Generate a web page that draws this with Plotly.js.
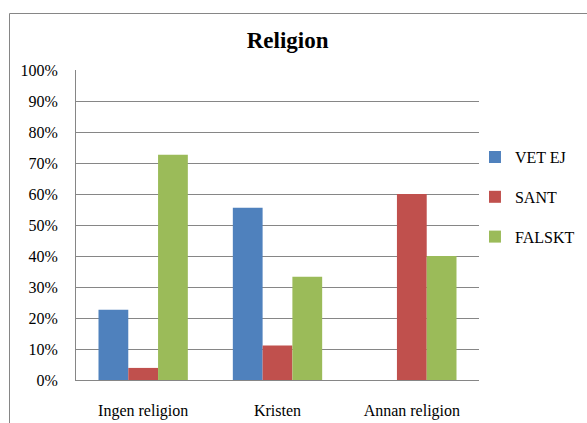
<!DOCTYPE html>
<html>
<head>
<meta charset="utf-8">
<script src="https://cdn.plot.ly/plotly-3.0.1.min.js"></script>
<style>
html,body{margin:0;padding:0;background:#fff;}
#chart{width:587px;height:423px;}
#chart svg text{font-family:'Liberation Serif', 'Times New Roman', serif !important;}
</style>
</head>
<body>
<div id="chart"></div>
<script>
const categories = ["Ingen religion", "Kristen", "Annan religion"];
const seriesNames = ["VET EJ", "SANT", "FALSKT"];
const vetEj = [0.227, 0.556, 0];
const sant = [0.039, 0.111, 0.60];
const falskt = [0.727, 0.333, 0.40];
const colors = ["#4F81BD", "#C0504D", "#9BBB59"];
const seriesValues = [vetEj, sant, falskt];

const FAM = "Liberation Serif";

const traces = seriesValues.map((vals, i) => ({
  type: "bar",
  name: seriesNames[i],
  x: categories,
  y: vals,
  marker: {color: colors[i]},
  legendgroup: "g" + i,
  hoverinfo: "none"
}));

const layout = {
  width: 587,
  height: 423,
  margin: {l: 76, r: 108, t: 70, b: 43, autoexpand: false},
  paper_bgcolor: "#ffffff",
  plot_bgcolor: "#ffffff",
  font: {family: FAM, size: 16, color: "#000000"},
  title: {
    text: "<b>Religion</b>",
    font: {family: FAM, size: 23, color: "#000000"},
    x: 0.49, xanchor: "center",
    y: 1 - 40 / 423, yanchor: "middle"
  },
  barmode: "group",
  bargap: 0.335,
  bargroupgap: 0,
  showlegend: true,
  legend: {
    x: 0.99, xanchor: "left",
    y: 0.59, yanchor: "middle",
    font: {family: FAM, size: 16, color: "#000000"},
    tracegroupgap: 16,
    itemwidth: 30,
    bgcolor: "rgba(0,0,0,0)"
  },
  xaxis: {
    type: "category",
    showgrid: false,
    showline: true,
    linecolor: "#868686",
    linewidth: 1,
    ticks: "",
    ticklabelstandoff: 16,
    tickfont: {family: FAM, size: 16, color: "#000000"},
    zeroline: false,
    fixedrange: true
  },
  yaxis: {
    range: [0, 1],
    dtick: 0.1,
    tick0: 0,
    tickformat: ".0%",
    showgrid: true,
    gridcolor: "#868686",
    gridwidth: 1,
    showline: true,
    linecolor: "#868686",
    linewidth: 1,
    ticks: "",
    ticklabelstandoff: 14,
    tickfont: {family: FAM, size: 16, color: "#000000"},
    zeroline: false,
    fixedrange: true
  },
  shapes: [{
    type: "rect",
    xref: "paper", yref: "paper",
    x0: (9.5 - 76) / 403, x1: (620 - 76) / 403,
    y0: (380 - 450) / 310, y1: (380 - 13.5) / 310,
    line: {color: "#868686", width: 1},
    fillcolor: "rgba(0,0,0,0)",
    layer: "below"
  }]
};

function forceSerif() {
  document.querySelectorAll("#chart svg text").forEach(function (t) {
    t.style.setProperty("font-family", "'Liberation Serif', serif", "important");
    t.setAttribute("font-family", "Liberation Serif");
  });
}

const gd = document.getElementById("chart");
Plotly.newPlot(gd, traces, layout, {displayModeBar: false, staticPlot: true}).then(function () {
  forceSerif();
  gd.on && gd.on("plotly_afterplot", forceSerif);
});
</script>
</body>
</html>
